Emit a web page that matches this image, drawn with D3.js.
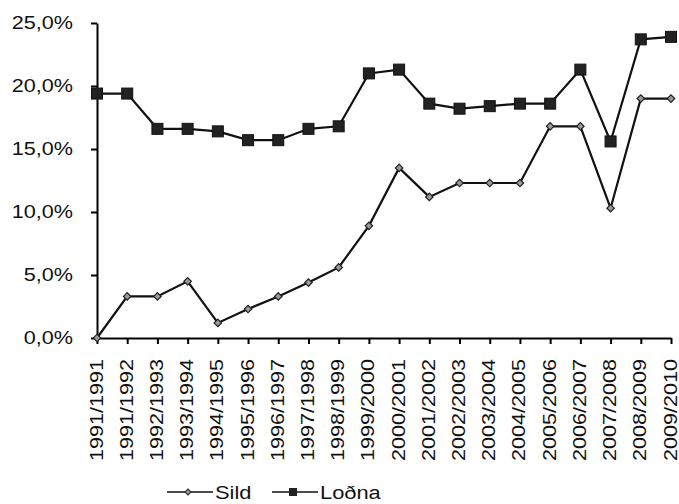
<!DOCTYPE html>
<html>
<head>
<meta charset="utf-8">
<script src="https://cdn.jsdelivr.net/npm/d3@7"></script>
<style>
    body { margin: 0; background: #fff; }
    .axis path, .axis line { stroke: #000; stroke-width: 2; }
    .axis text { font-family: "Liberation Sans", Arial, sans-serif; fill: #111; }
</style>
</head>
<body>
<div id="figure"></div>
<script>
var seasons = ["1991/1991", "1991/1992", "1992/1993", "1993/1994", "1994/1995", "1995/1996", "1996/1997",
    "1997/1998", "1998/1999", "1999/2000", "2000/2001", "2001/2002", "2002/2003", "2003/2004",
    "2004/2005", "2005/2006", "2006/2007", "2007/2008", "2008/2009", "2009/2010"];
var sild = [0, 3.3, 3.3, 4.5, 1.2, 2.3, 3.3, 4.4, 5.6, 8.9, 13.5, 11.2, 12.3, 12.3, 12.3, 16.8, 16.8, 10.3, 19.0, 19.0];
var lodna = [19.4, 19.4, 16.6, 16.6, 16.4, 15.7, 15.7, 16.6, 16.8, 21.0, 21.3, 18.6, 18.2, 18.4, 18.6, 18.6, 21.3, 15.6, 23.7, 23.9];
var yTicks = [0, 5, 10, 15, 20, 25];
var seriesNames = ["Sild", "Loðna"];

var w = 679;
var h = 504;
var stretch = 1.2; // the lettering is wider than plain Arial
var svg = d3.select("#figure")
    .append("svg")
    .attr("width", w)
    .attr("height", h);

var xScale = d3.scalePoint()
    .domain(seasons)
    .range([97, 671]);

var yScale = d3.scaleLinear()
    .domain([0, 25])
    .range([338, 23]);

// y axis
var yAxis = d3.axisLeft(yScale)
    .tickValues(yTicks)
    .tickSize(6)
    .tickSizeOuter(0)
    .tickPadding(18)
    .tickFormat(function(d) {
        return d.toFixed(1).replace(".", ",") + "%";
    });

svg.append("g")
    .attr("class", "axis")
    .attr("transform", "translate(97,0)")
    .call(yAxis)
    .selectAll("text")
    .style("font-size", "18px")
    .attr("x", -24 / stretch)
    .attr("transform", "scale(" + stretch + ",1)");

// x axis
var xAxis = d3.axisBottom(xScale)
    .tickSize(6)
    .tickSizeOuter(0);

var gx = svg.append("g")
    .attr("class", "axis")
    .attr("transform", "translate(0,338)")
    .call(xAxis);
gx.selectAll("text")
    .style("font-size", "18px")
    .style("text-anchor", "end")
    .attr("transform", "rotate(-90) scale(" + stretch + ",1)")
    .attr("x", -21 / stretch)
    .attr("y", 0)
    .attr("dy", "0.28em");

// lines
var line = d3.line()
    .x(function(d, i) { return xScale(seasons[i]); })
    .y(function(d) { return yScale(d); });

svg.append("path")
    .datum(sild)
    .attr("fill", "none")
    .attr("stroke", "#111")
    .attr("stroke-width", 2.2)
    .attr("d", line);

svg.append("path")
    .datum(lodna)
    .attr("fill", "none")
    .attr("stroke", "#111")
    .attr("stroke-width", 2.2)
    .attr("d", line);

// markers
var diamond = d3.symbol().type(d3.symbolSquare).size(28);

svg.selectAll(".sild")
    .data(sild)
    .enter()
    .append("path")
    .attr("class", "sild")
    .attr("d", diamond)
    .attr("transform", function(d, i) {
        return "translate(" + xScale(seasons[i]) + "," + yScale(d) + ") rotate(45)";
    })
    .attr("fill", "#999")
    .attr("stroke", "#222")
    .attr("stroke-width", 1.2);

svg.selectAll(".lodna")
    .data(lodna)
    .enter()
    .append("rect")
    .attr("class", "lodna")
    .attr("x", function(d, i) { return xScale(seasons[i]) - 5.5; })
    .attr("y", function(d) { return yScale(d) - 5.5; })
    .attr("width", 11)
    .attr("height", 11)
    .attr("fill", "#222")
    .attr("stroke", "#111")
    .attr("stroke-width", 1);

// legend
var legendX = [167, 272];
var legend = svg.selectAll(".legend")
    .data(seriesNames)
    .enter()
    .append("g")
    .attr("class", "legend")
    .attr("transform", function(d, i) { return "translate(" + legendX[i] + ",492)"; });

legend.append("line")
    .attr("x1", 0)
    .attr("x2", 46)
    .attr("y1", 0)
    .attr("y2", 0)
    .attr("stroke", "#111")
    .attr("stroke-width", 1.6);

legend.each(function(d, i) {
    var g = d3.select(this);
    if (i == 0) {
        g.append("path")
            .attr("d", d3.symbol().type(d3.symbolSquare).size(18))
            .attr("transform", "translate(21,0) rotate(45)")
            .attr("fill", "#999")
            .attr("stroke", "#222")
            .attr("stroke-width", 1);
    } else {
        g.append("rect")
            .attr("x", 17)
            .attr("y", -4)
            .attr("width", 8)
            .attr("height", 8)
            .attr("fill", "#222");
    }
});

legend.append("text")
    .attr("x", 48 / 1.15)
    .attr("y", 0)
    .attr("dy", "0.36em")
    .attr("transform", "scale(1.15,1)")
    .style("font-family", "Liberation Sans, Arial, sans-serif")
    .style("font-size", "19px")
    .attr("fill", "#111")
    .text(function(d) { return d; });
</script>
</body>
</html>
